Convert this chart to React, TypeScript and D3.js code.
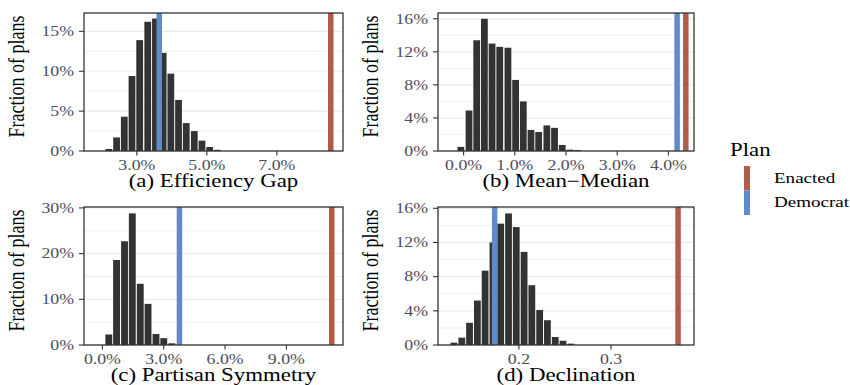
import React from "react";
import * as d3 from "d3";

// ---------- data ----------
const egEdges = [2.09, 2.31, 2.53, 2.75, 2.97, 3.2, 3.42, 3.64, 3.86, 4.08, 4.3, 4.53, 4.75, 4.97, 5.19];
const egValues = [0.25, 1.7, 4.3, 9.4, 13.9, 16.2, 16.6, 12.3, 9.7, 6.4, 3.5, 2.5, 1.3, 0.5, 0.15];
const egBinWidth = 0.222;
const egDemocrat = 3.64;
const egEnacted = 8.54;
const egXTicks = [3, 5, 7];
const egYTicks = [0, 5, 10, 15];

const mmEdges = [-0.13, 0.03, 0.18, 0.33, 0.48, 0.63, 0.79, 0.94, 1.09, 1.24, 1.39, 1.55, 1.7, 1.85, 2.0, 2.15];
const mmValues = [0.5, 4.9, 13.4, 16.0, 13.0, 12.6, 12.5, 8.6, 6.0, 2.55, 2.3, 3.1, 2.8, 0.73, 0.16, 0.12];
const mmBinWidth = 0.152;
const mmDemocrat = 4.17;
const mmEnacted = 4.34;
const mmXTicks = [0, 1, 2, 3, 4];
const mmYTicks = [0, 4, 8, 12, 16];

const psEdges = [0.12, 0.5, 0.89, 1.27, 1.66, 2.04, 2.43, 2.81, 3.2];
const psValues = [2.3, 18.6, 22.7, 28.8, 13.4, 9.0, 2.4, 1.5, 0.37];
const psBinWidth = 0.385;
const psDemocrat = 3.77;
const psEnacted = 11.22;
const psXTicks = [0, 3, 6, 9];
const psYTicks = [0, 10, 20, 30];

const dcEdges = [0.1253, 0.1338, 0.1422, 0.1507, 0.1591, 0.1676, 0.176, 0.1845, 0.1929, 0.2014, 0.2098, 0.2183, 0.2267, 0.2352, 0.2436, 0.2521];
const dcValues = [0.27, 0.86, 2.6, 5.2, 8.7, 12.0, 14.2, 15.4, 13.8, 10.9, 7.0, 4.1, 2.9, 0.94, 0.5, 0.16];
const dcBinWidth = 0.00845;
const dcDemocrat = 0.1737;
const dcEnacted = 0.3727;
const dcXTicks = [0.2, 0.3];
const dcYTicks = [0, 4, 8, 12, 16];

const legendTitle = "Plan";
const legendLabels = ["Enacted", "Democrat"];

// ---------- style ----------
const FONT = "'Liberation Serif', 'Times New Roman', serif";
const SX = 1.27;
const RED = "#b35b4b";
const BLUE = "#5f8bc6";
const BAR = "#333333";
const TICKCOL = "#4d4d5a";
const GRID = "#ebebeb";
const BORDER = "#333333";

type PanelProps = {
  left: number; right: number; top: number; bottom: number;
  xDomain: [number, number]; yDomain: [number, number];
  edges: number[]; values: number[]; binWidth: number;
  democrat: number; enacted: number;
  xTicks: number[]; yTicks: number[];
  xFmt: (v: number) => string;
  title: string;
};

function SText({ x, y, anchor, size, fill, children }: any) {
  return (
    <g transform={`translate(${x},${y}) scale(${SX},1)`}>
      <text x={0} y={0} textAnchor={anchor} fontSize={size} fill={fill} fontFamily={FONT}>
        {children}
      </text>
    </g>
  );
}

function Panel(p: PanelProps) {
  const x = d3.scaleLinear().domain(p.xDomain).range([p.left, p.right]);
  const y = d3.scaleLinear().domain(p.yDomain).range([p.bottom, p.top]);
  const step = p.yTicks[1] - p.yTicks[0];
  const minor = p.yTicks.map((t) => t + step / 2).filter((t) => t < p.yDomain[1]);
  const ordered = [
    { v: p.democrat, c: BLUE },
    { v: p.enacted, c: RED },
  ];
  return (
    <g>
      {minor.map((t) => (
        <line key={"m" + t} x1={p.left} x2={p.right} y1={y(t)} y2={y(t)} stroke={GRID} strokeWidth={0.8} />
      ))}
      {p.yTicks.map((t) => (
        <line key={"g" + t} x1={p.left} x2={p.right} y1={y(t)} y2={y(t)} stroke={GRID} strokeWidth={1.2} />
      ))}
      {p.edges.map((e, i) => (
        <rect
          key={"b" + i}
          x={x(e) + 0.5}
          width={Math.max(0, x(e + p.binWidth) - x(e) - 1)}
          y={y(p.values[i])}
          height={p.bottom - y(p.values[i])}
          fill={BAR}
        />
      ))}
      {ordered.map((o, i) => (
        <line key={"v" + i} x1={x(o.v)} x2={x(o.v)} y1={p.top} y2={p.bottom} stroke={o.c} strokeWidth={5.5} />
      ))}
      <rect x={p.left} y={p.top} width={p.right - p.left} height={p.bottom - p.top} fill="none" stroke={BORDER} strokeWidth={1.3} />
      {p.yTicks.map((t) => (
        <g key={"yt" + t}>
          <line x1={p.left - 5} x2={p.left} y1={y(t)} y2={y(t)} stroke={BORDER} strokeWidth={1.1} />
          <SText x={p.left - 10} y={y(t) + 4.8} anchor="end" size={14} fill={TICKCOL}>
            {t + "%"}
          </SText>
        </g>
      ))}
      {p.xTicks.map((t) => (
        <g key={"xt" + t}>
          <line x1={x(t)} x2={x(t)} y1={p.bottom} y2={p.bottom + 4.5} stroke={BORDER} strokeWidth={1.1} />
          <SText x={x(t)} y={p.bottom + 18.5} anchor="middle" size={14} fill={TICKCOL}>
            {p.xFmt(t)}
          </SText>
        </g>
      ))}
      <SText x={(p.left + p.right) / 2} y={p.bottom + 36} anchor="middle" size={18} fill="#000">
        {p.title}
      </SText>
      <g transform={`translate(${p.left - 60},${(p.top + p.bottom) / 2 - 5.5}) rotate(-90) scale(1,${SX})`}>
        <text x={0} y={0} textAnchor="middle" fontSize={18} fontFamily={FONT} fill="#000">
          Fraction of plans
        </text>
      </g>
    </g>
  );
}

const pct1 = (v: number) => d3.format(".1f")(v) + "%";
const dec1 = (v: number) => d3.format(".1f")(v);

export default function App() {
  return (
    <svg width={850} height={385} style={{ position: "absolute", left: 0, top: 0, background: "#fff" }}>
      <rect width={850} height={385} fill="#fff" />
      <Panel left={84} right={343} top={13} bottom={151} xDomain={[1.49, 8.89]} yDomain={[0, 17.3]}
        edges={egEdges} values={egValues} binWidth={egBinWidth} democrat={egDemocrat} enacted={egEnacted}
        xTicks={egXTicks} yTicks={egYTicks} xFmt={pct1} title="(a) Efficiency Gap" />
      <Panel left={438} right={694} top={13} bottom={151} xDomain={[-0.5, 4.5]} yDomain={[0, 16.7]}
        edges={mmEdges} values={mmValues} binWidth={mmBinWidth} democrat={mmDemocrat} enacted={mmEnacted}
        xTicks={mmXTicks} yTicks={mmYTicks} xFmt={pct1} title="(b) Mean−Median" />
      <Panel left={84} right={343} top={207} bottom={345} xDomain={[-0.9, 11.77]} yDomain={[0, 30.2]}
        edges={psEdges} values={psValues} binWidth={psBinWidth} democrat={psDemocrat} enacted={psEnacted}
        xTicks={psXTicks} yTicks={psYTicks} xFmt={pct1} title="(c) Partisan Symmetry" />
      <Panel left={438} right={694} top={207} bottom={345} xDomain={[0.1122, 0.39]} yDomain={[0, 16.15]}
        edges={dcEdges} values={dcValues} binWidth={dcBinWidth} democrat={dcDemocrat} enacted={dcEnacted}
        xTicks={dcXTicks} yTicks={dcYTicks} xFmt={dec1} title="(d) Declination" />
      {/* legend */}
      <SText x={730} y={156} anchor="start" size={18} fill="#000">{legendTitle}</SText>
      <rect x={744} y={166} width={6} height={24.5} fill={RED} />
      <rect x={744} y={190.5} width={6} height={24.5} fill={BLUE} />
      <SText x={774} y={183} anchor="start" size={15} fill="#000">{legendLabels[0]}</SText>
      <SText x={774} y={207} anchor="start" size={15} fill="#000">{legendLabels[1]}</SText>
    </svg>
  );
}
